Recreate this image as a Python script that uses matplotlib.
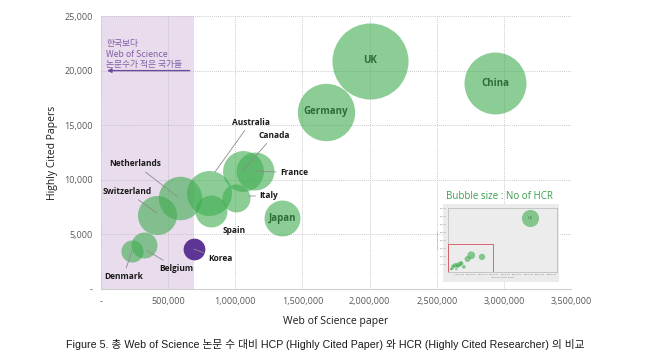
import matplotlib
matplotlib.use("Agg")
import matplotlib.pyplot as plt
from matplotlib.patches import Rectangle
from matplotlib.ticker import FixedLocator

plt.rcParams['font.family'] = ['Open Sans', 'Noto Sans CJK KR', 'DejaVu Sans']

# ---------------- data ----------------
countries = ['UK', 'China', 'Germany', 'Australia', 'Canada', 'France', 'Netherlands',
             'Switzerland', 'Italy', 'Spain', 'Japan', 'Belgium', 'Denmark', 'Korea']
papers = [2000000, 2934000, 1675000, 805000, 1056000, 1145000, 587000,
          414000, 1004000, 818000, 1351000, 320000, 233000, 691000]
hcp = [20900, 18840, 16250, 8820, 10830, 10800, 8300,
       6780, 8360, 7140, 6470, 4030, 3510, 3660]
hcr = [318, 211, 181, 111, 92, 79, 104, 84, 43, 56, 71, 37, 27, 26]

us_papers = 7100000
us_hcp = 67000
us_hcr = 1529

korea_threshold = 690000

x_ticks = [0, 500000, 1000000, 1500000, 2000000, 2500000, 3000000, 3500000]
x_ticklabels = ['-', '500,000', '1,000,000', '1,500,000', '2,000,000', '2,500,000', '3,000,000', '3,500,000']
y_ticks = [0, 5000, 10000, 15000, 20000, 25000]
y_ticklabels = ['-', '5,000', '10,000', '15,000', '20,000', '25,000']

inside_labels = ['UK', 'China', 'Germany', 'Japan']
# outside labels: (text x, text y, leader end x, leader end y or None)
outside = {
    'Netherlands': (253000, 11450, 572000, 8420),
    'Switzerland': (194000, 8910, 416000, 6960),
    'Denmark': (166000, 1130, 230000, 3480),
    'Belgium': (563000, 1900, 345000, 3500),
    'Korea': (890000, 2750, 691000, 3660),
    'Italy': (1251000, 8520, 1100000, 8520),
    'France': (1437000, 10650, 1145000, 10800),
    'Canada': (1288000, 14100, 1056000, 10830),
    'Australia': (1115000, 15290, 848000, 10710),
    'Spain': (991000, 5370, None, None),
}

GREEN = '#3fac50'
PURPLE = '#5c3596'
SIZE_K = 9.43

fig = plt.figure(figsize=(6.5, 3.56), dpi=100)
ax = fig.add_axes([0.1554, 0.1882, 0.7231, 0.7668])

ax.set_xlim(0, 3500000)
ax.set_ylim(0, 25000)

# shaded region
ax.axvspan(0, korea_threshold, color='#e9dcec', zorder=0, lw=0)

# grid
ax.set_xticks(x_ticks)
ax.set_xticklabels(x_ticklabels)
ax.set_yticks(y_ticks)
ax.set_yticklabels(y_ticklabels)
ax.grid(True, linestyle=(0, (1, 1.5)), color='#b8b8b8', lw=0.6, zorder=1)
ax.set_axisbelow(True)
for s in ['top', 'right', 'left']:
    ax.spines[s].set_visible(False)
ax.spines['bottom'].set_color('#d0d0d0')
ax.spines['bottom'].set_linewidth(0.8)
ax.tick_params(length=0, labelsize=6.5, labelcolor='#595959', pad=6)

# bubbles
colors = [PURPLE if c == 'Korea' else GREEN for c in countries]
alphas = [1.0 if c == 'Korea' else 0.6 for c in countries]
for x, y, h, c, a in zip(papers, hcp, hcr, colors, alphas):
    ax.scatter(x, y, s=h * SIZE_K, color=c, alpha=a, lw=0, zorder=3)

# labels inside bubbles
for name, x, y in zip(countries, papers, hcp):
    if name in inside_labels:
        ax.text(x, y, name, ha='center', va='center', fontsize=7, fontweight='bold',
                color='#2f6b39', zorder=5)

# outside labels with leader lines
for name, (tx, ty, ex, ey) in outside.items():
    if ex is None:
        ax.text(tx, ty, name, ha='center', va='center', fontsize=6, fontweight='bold',
                color='#1a1a1a', zorder=5)
    else:
        ax.annotate(name, xy=(ex, ey), xytext=(tx, ty), ha='center', va='center',
                    fontsize=6, fontweight='bold', color='#1a1a1a', zorder=5,
                    arrowprops=dict(arrowstyle='-', color='#8c8c8c', lw=0.6,
                                    shrinkA=1, shrinkB=0))

# annotation in shaded region
ax.text(40000, 22900, '한국보다\nWeb of Science\n논문수가 적은 국가들', ha='left', va='top',
        fontsize=6.3, color='#8060a8', linespacing=1.25, zorder=5,
        family=['Noto Sans CJK KR', 'DejaVu Sans'])
ax.annotate('', xy=(45000, 20000), xytext=(660000, 20000),
            arrowprops=dict(arrowstyle='-|>', color='#6a4a9c', lw=1.0,
                            mutation_scale=6, shrinkA=0, shrinkB=0), zorder=5)

ax.set_xlabel('Web of Science paper', fontsize=7.5, color='#1a1a1a', labelpad=7)
ax.set_ylabel('Highly Cited Papers', fontsize=7.5, color='#1a1a1a', labelpad=4)

# inset picture
fig.text(0.769, 0.449, 'Bubble size : No of HCR', ha='center', va='center', fontsize=7,
         color='#3a9e4a')
bg = fig.add_axes([0.681, 0.2087, 0.1794, 0.218])
bg.set_facecolor('#ebebeb')
bg.set_xticks([])
bg.set_yticks([])
for s in bg.spines.values():
    s.set_visible(False)

ins = fig.add_axes([0.6897, 0.2360, 0.1677, 0.1798])
ins.set_facecolor('#ececec')
ins.set_xlim(0, 9500000)
ins.set_ylim(0, 80000)
for s in ins.spines.values():
    s.set_color('#a8a8a8')
    s.set_linewidth(0.4)
ins.xaxis.set_major_locator(FixedLocator(list(range(1000000, 9000001, 1000000))))
ins.yaxis.set_major_locator(FixedLocator(list(range(10000, 80001, 10000))))
ins.set_xticklabels(['{:,}'.format(v) for v in range(1000000, 9000001, 1000000)])
ins.set_yticklabels(['{:,}'.format(v) for v in range(10000, 80001, 10000)])
ins.tick_params(length=0, labelsize=1.6, labelcolor='#777777', pad=1)
ins.set_xlabel('Web of Science paper', fontsize=1.6, color='#777777', labelpad=1)
ins.set_ylabel('Highly Cited Papers', fontsize=1.6, color='#777777', labelpad=1)
INSET_K = 0.1
ins.scatter(papers, hcp, s=[h * INSET_K for h in hcr], color=GREEN, alpha=0.6, lw=0, zorder=3)
ins.scatter([us_papers], [us_hcp], s=[us_hcr * INSET_K], color=GREEN, alpha=0.6, lw=0, zorder=3)
ins.text(us_papers, us_hcp, 'US', ha='center', va='center', fontsize=2.8, color='#2f6b39')
ins.add_patch(Rectangle((0, 0), 3900000, 35400, fill=False, ec='#d9505a', lw=0.6, zorder=4))

# caption
fig.text(0.5, 0.031, 'Figure 5. 총 Web of Science 논문 수 대비 HCP (Highly Cited Paper) 와 HCR (Highly Cited Researcher) 의 비교',
         ha='center', va='center', fontsize=7.7, color='#1a1a1a',
         family=['Liberation Sans', 'Noto Sans CJK KR'])

fig.savefig('out.png', dpi=100)
